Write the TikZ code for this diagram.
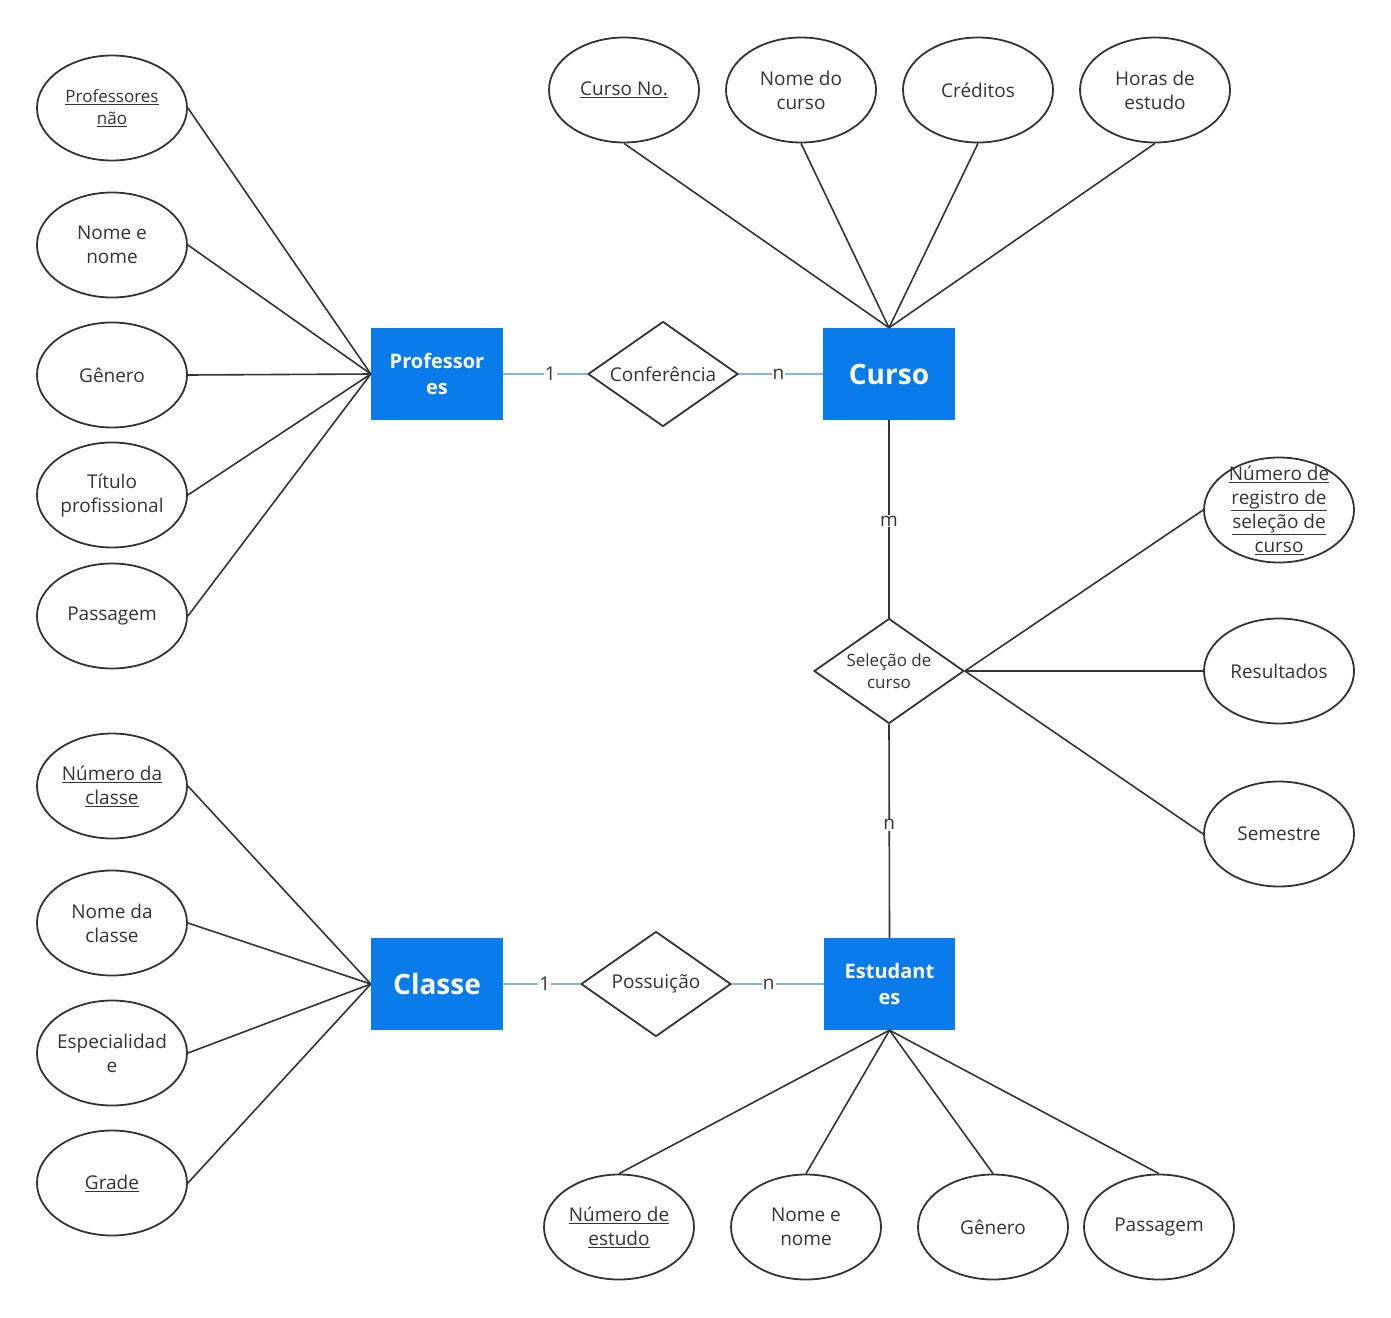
\documentclass[tikz,border=0pt]{standalone}
\usepackage{fontspec}
\setmainfont{Open Sans}
\usetikzlibrary{shapes.geometric}
\definecolor{eblue}{HTML}{0A7BEB}
\definecolor{lblue}{HTML}{7FB6EE}
\definecolor{ink}{HTML}{333333}
\begin{document}
\begin{tikzpicture}[x=1pt,y=-1pt,
 attr/.style={ellipse,draw=ink,line width=1.8pt,minimum width=150pt,minimum height=105pt,inner sep=-12pt,align=center,font=\fontsize{19}{24}\selectfont,text=ink},
 ent/.style={rectangle,fill=eblue,text=white,minimum width=132pt,minimum height=92pt,align=center,font=\bfseries\fontsize{20}{26}\selectfont},
 rel/.style={diamond,draw=ink,line width=1.8pt,minimum width=150pt,minimum height=105pt,inner sep=0pt,aspect=1.43,align=center,font=\fontsize{19}{23}\selectfont,text=ink},
 ln/.style={draw=ink,line width=1.6pt},
 bl/.style={draw=lblue,line width=1.2pt},
 lab/.style={fill=white,inner sep=1pt,font=\fontsize{19}{22}\selectfont,text=ink}]
\useasboundingbox (0,0) rectangle (1391,1317);
% entities
\node[ent] (prof) at (437,374) {Professor\\es};
\node[ent,font=\bfseries\fontsize{28}{32}\selectfont] (curso) at (889,374) {Curso};
\node[ent,font=\bfseries\fontsize{28}{32}\selectfont] (classe) at (437,984) {Classe};
\node[ent,minimum width=131pt] (est) at (889.5,984) {Estudant\\es};
% relations
\node[rel] (conf) at (663,374) {Conferência};
\node[rel,font=\fontsize{17}{22}\selectfont] (sel) at (889,671) {Seleção de\\curso};
\node[rel] (pos) at (656,984) {Possuição};
% left attributes
\node[attr,font=\fontsize{17}{22}\selectfont] (a1) at (112,108) {\underline{Professores}\\\underline{não}};
\node[attr] (a2) at (112,245) {Nome e\\nome};
\node[attr] (a3) at (112,375) {Gênero};
\node[attr] (a4) at (112,495) {Título\\profissional};
\node[attr] (a5) at (112,616) {Passagem};
\foreach \a in {a1,a2,a3,a4,a5} \draw[ln] (\a.east) -- (prof.west);
% top attributes
\node[attr] (c1) at (624,90) {\underline{Curso No.}};
\node[attr] (c2) at (801,90) {Nome do\\curso};
\node[attr] (c3) at (978,90) {Créditos};
\node[attr] (c4) at (1155,90) {Horas de\\estudo};
\foreach \a in {c1,c2,c3,c4} \draw[ln] (\a.south) -- (curso.north);
% selection attributes
\node[attr,inner sep=-30pt] (s1) at (1279,510) {\underline{Número de}\\\underline{registro de}\\\underline{seleção de}\\\underline{curso}};
\node[attr] (s2) at (1279,671) {Resultados};
\node[attr] (s3) at (1279,834) {Semestre};
\foreach \a in {s1,s2,s3} \draw[ln] (sel.east) -- (\a.west);
% class attributes
\node[attr] (k1) at (112,786) {\underline{Número da}\\\underline{classe}};
\node[attr] (k2) at (112,923) {Nome da\\classe};
\node[attr] (k3) at (112,1053) {Especialidad\\e};
\node[attr] (k4) at (112,1183) {\underline{Grade}};
\foreach \a in {k1,k2,k3,k4} \draw[ln] (\a.east) -- (classe.west);
% student attributes
\node[attr] (e1) at (619,1227) {\underline{Número de}\\\underline{estudo}};
\node[attr] (e2) at (806,1227) {Nome e\\nome};
\node[attr] (e3) at (993,1227) {Gênero};
\node[attr] (e4) at (1159,1227) {Passagem};
\foreach \a in {e1,e2,e3,e4} \draw[ln] (\a.north) -- (est.south);
% relationship lines
\draw[bl] (prof.east) -- node[lab,pos=0.56]{1} (conf.west);
\draw[bl] (conf.east) -- node[lab,pos=0.47]{n} (curso.west);
\draw[ln] (curso.south) -- node[lab,pos=0.51]{m} (sel.north);
\draw[ln] (sel.south) -- node[lab,pos=0.47]{n} (est.north);
\draw[bl] (classe.east) -- node[lab,pos=0.54]{1} (pos.west);
\draw[bl] (pos.east) -- node[lab,pos=0.4]{n} (est.west);
\end{tikzpicture}
\end{document}
